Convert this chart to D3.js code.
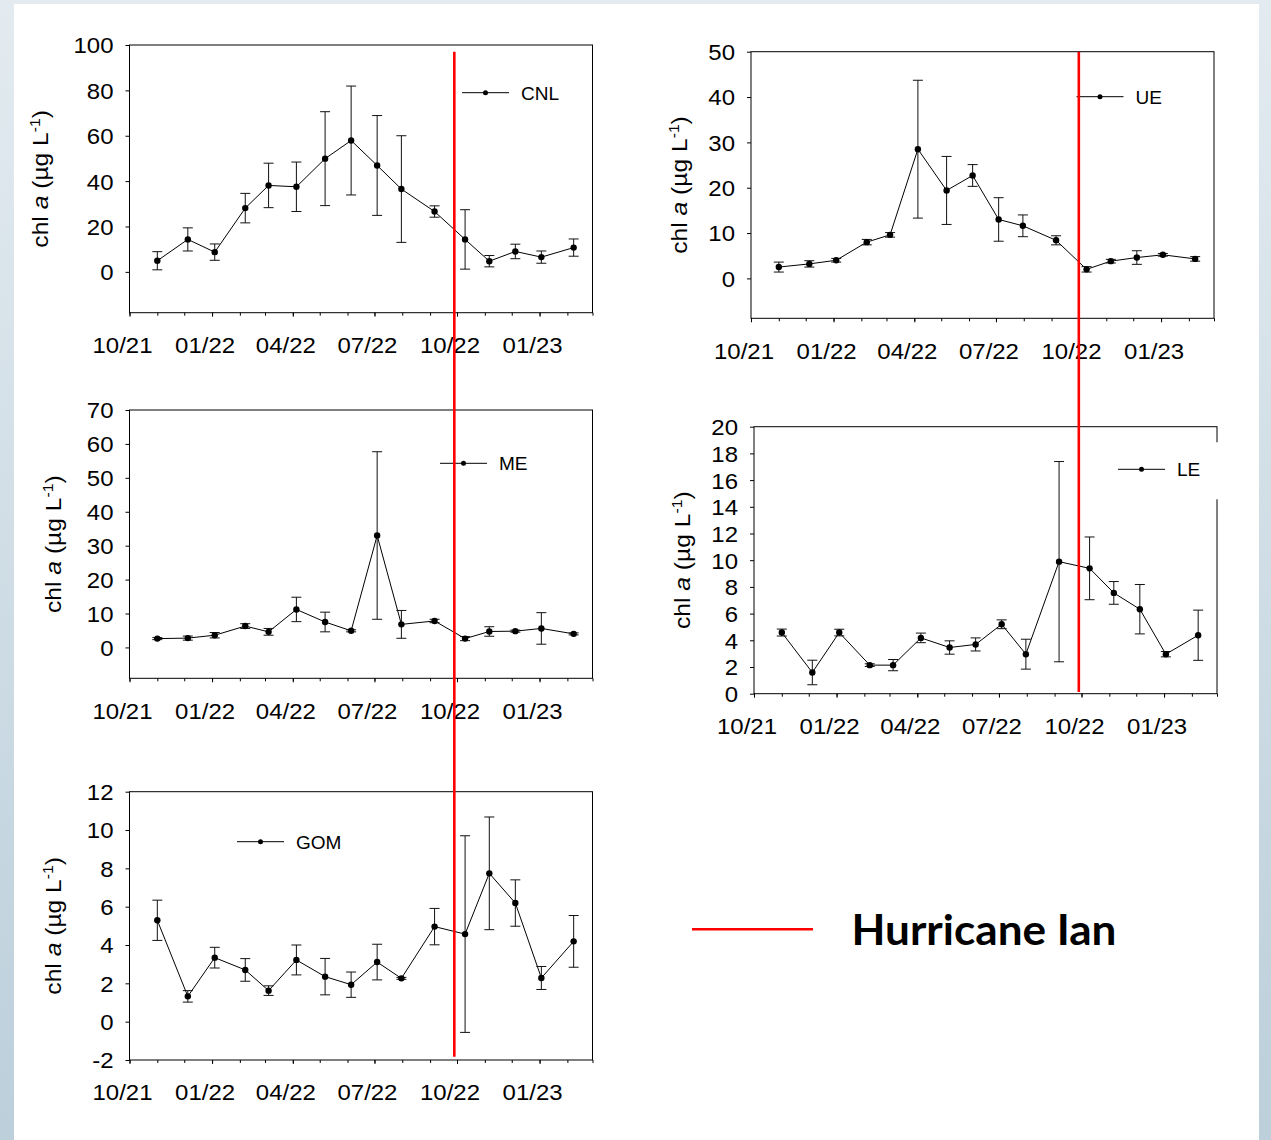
<!DOCTYPE html>
<html>
<head>
<meta charset="utf-8">
<script src="https://cdn.jsdelivr.net/npm/d3@7"></script>
<style>
  body { margin: 0; }
  svg text { font-family: "Liberation Sans", Arial, sans-serif; fill: #000; }
</style>
</head>
<body>
<div id="grafico"></div>
<script>
// Fechas de muestreo (comunes a todas las estaciones)
const fechas = ["2021-11-01", "2021-12-05", "2022-01-04", "2022-02-07", "2022-03-05", "2022-04-05",
  "2022-05-07", "2022-06-05", "2022-07-04", "2022-07-31", "2022-09-06", "2022-10-10",
  "2022-11-06", "2022-12-05", "2023-01-03", "2023-02-08"]
const fechaHuracan = "2022-09-28"
const etiquetasX = ["10/21", "01/22", "04/22", "07/22", "10/22", "01/23"]

// chl a (media y desviacion) por estacion
const cnlMedia = [4.9, 14.3, 8.7, 28.1, 38.1, 37.5, 49.9, 57.9, 46.9, 36.5, 26.6, 14.3, 4.7, 9.0, 6.5, 10.7]
const cnlError = [4.0, 5.1, 3.6, 6.5, 9.8, 10.9, 20.7, 24.0, 22.0, 23.5, 2.5, 13.1, 2.5, 3.2, 2.7, 3.8]
const cnlTicks = [0, 20, 40, 60, 80, 100]

const ueMedia = [2.5, 3.2, 4.0, 8.0, 9.6, 28.5, 19.4, 22.7, 13.0, 11.6, 8.4, 2.0, 3.8, 4.6, 5.2, 4.3]
const ueError = [1.1, 0.7, 0.4, 0.6, 0.5, 15.2, 7.5, 2.4, 4.8, 2.4, 1.0, 0.6, 0.4, 1.5, 0.3, 0.5]
const ueTicks = [0, 10, 20, 30, 40, 50]

const meMedia = [2.6, 2.75, 3.6, 6.3, 4.6, 11.2, 7.5, 4.9, 33.0, 6.8, 7.8, 2.6, 4.7, 4.8, 5.6, 4.0]
const meError = [0.3, 0.6, 0.8, 0.7, 1.0, 3.6, 2.9, 0.3, 24.7, 4.1, 0.5, 0.6, 1.4, 0.3, 4.65, 0.3]
const meTicks = [0, 10, 20, 30, 40, 50, 60, 70]

const leMedia = [4.58, 1.59, 4.58, 2.14, 2.14, 4.18, 3.46, 3.69, 5.2, 2.96, 9.89, 9.39, 7.55, 6.33, 2.96, 4.38]
const leError = [0.26, 0.92, 0.25, 0.1, 0.42, 0.36, 0.5, 0.49, 0.33, 1.12, 7.5, 2.35, 0.85, 1.85, 0.2, 1.88]
const leTicks = [0, 2, 4, 6, 8, 10, 12, 14, 16, 18, 20]

const gomMedia = [5.29, 1.32, 3.34, 2.7, 1.62, 3.22, 2.35, 1.93, 3.11, 2.26, 4.96, 4.57, 7.74, 6.19, 2.28, 4.19]
const gomError = [1.05, 0.3, 0.54, 0.59, 0.25, 0.78, 0.95, 0.66, 0.93, 0.05, 0.95, 5.13, 2.94, 1.21, 0.6, 1.35]
const gomTicks = [-2, 0, 2, 4, 6, 8, 10, 12]

const parse = d3.timeParse("%Y-%m-%d")
const inicio = parse("2021-10-01")
const fin = parse("2023-03-01")

// Paneles: posicion de la caja y de la leyenda
const paneles = [
  { nombre: "CNL", media: cnlMedia, error: cnlError, ticks: cnlTicks, dominio: [-18, 100],
    caja: [129.5, 592.5, 45, 312.7], leyenda: [462, 92.7], offTitulo: 82 },
  { nombre: "UE", media: ueMedia, error: ueError, ticks: ueTicks, dominio: [-8.8, 50],
    caja: [751, 1214, 51.7, 318.3], leyenda: [1076.5, 96.7], offTitulo: 64 },
  { nombre: "ME", media: meMedia, error: meError, ticks: meTicks, dominio: [-9.1, 70],
    caja: [129.5, 592.5, 410, 678.3], leyenda: [440, 463.3], offTitulo: 69 },
  { nombre: "LE", media: leMedia, error: leError, ticks: leTicks, dominio: [0, 20],
    caja: [754, 1217, 426.7, 693.7], leyenda: [1118, 469.3], offTitulo: 64, tapaBorde: true },
  { nombre: "GOM", media: gomMedia, error: gomError, ticks: gomTicks, dominio: [-2, 12],
    caja: [129.5, 592.5, 791.7, 1060], leyenda: [237, 841.7], offTitulo: 69 },
]

const svg = d3.select("#grafico")
  .append("svg")
  .attr("width", 1271)
  .attr("height", 1140)

// Fondo
const defs = svg.append("defs")
const grad = defs.append("linearGradient").attr("id", "fondo").attr("x1", 0).attr("y1", 0).attr("x2", 0).attr("y2", 1)
grad.append("stop").attr("offset", "0%").attr("stop-color", "#e3ebf0")
grad.append("stop").attr("offset", "100%").attr("stop-color", "#bccfdb")
svg.append("rect").attr("width", 1271).attr("height", 1140).attr("fill", "url(#fondo)")
svg.append("rect").attr("x", 14).attr("y", 4).attr("width", 1245).attr("height", 1140).attr("fill", "white")

const estirarX = 1.09
const escalasX = {}

paneles.forEach((p) => {
  const [x0, x1, y0, y1] = p.caja
  const x = d3.scaleTime().domain([inicio, fin]).range([x0, x1])
  const y = d3.scaleLinear().domain(p.dominio).range([y1, y0])
  escalasX[p.nombre] = x
  const datos = fechas.map((f, i) => ({ fecha: parse(f), media: p.media[i], error: p.error[i] }))
  const g = svg.append("g")

  // Caja del grafico
  g.append("rect")
    .attr("x", x0).attr("y", y0)
    .attr("width", x1 - x0).attr("height", y1 - y0)
    .attr("fill", "none").attr("stroke", "#000").attr("stroke-width", 1)

  // La leyenda de LE tapa el borde derecho
  if (p.tapaBorde) {
    g.append("rect").attr("x", p.leyenda[0] - 8).attr("y", p.leyenda[1] - 27)
      .attr("width", 112).attr("height", 57).attr("fill", "white")
  }

  // Eje X: meses menores y trimestres con etiqueta
  const meses = d3.timeMonth.range(inicio, d3.timeMonth.offset(fin, 1))
  const trimestres = d3.timeMonth.every(3).range(inicio, fin)
  g.append("g")
    .attr("transform", `translate(0, ${y1})`)
    .call(d3.axisBottom(x).tickValues(meses).tickSize(3).tickFormat(""))
    .call((a) => a.select(".domain").remove())
  const ejeX = g.append("g")
    .attr("transform", `translate(0, ${y1})`)
    .call(d3.axisBottom(x).tickValues(trimestres).tickSize(4).tickFormat((d, i) => etiquetasX[i]))
    .call((a) => a.select(".domain").remove())
  ejeX.selectAll("text")
    .attr("y", 40.5).attr("dy", 0)
    .attr("font-size", 22)
    .attr("transform", `translate(-7.5,0) scale(${estirarX},1)`)

  // Eje Y
  const ejeY = g.append("g")
    .attr("transform", `translate(${x0}, 0)`)
    .call(d3.axisLeft(y).tickValues(p.ticks).tickSize(4).tickFormat((d) => String(d)))
    .call((a) => a.select(".domain").remove())
  ejeY.selectAll("text")
    .attr("x", 0).attr("dy", "0.36em")
    .attr("font-size", 22)
    .attr("transform", `translate(-16,0) scale(${estirarX},1)`)
  g.selectAll(".tick line").attr("stroke", "#000")

  // Titulo del eje Y
  const titulo = g.append("text")
    .attr("text-anchor", "middle")
    .attr("font-size", 22)
    .attr("transform", `translate(${x0 - p.offTitulo}, ${(y0 + y1) / 2}) rotate(-90) scale(1.12,1)`)
  titulo.append("tspan").text("chl ")
  titulo.append("tspan").attr("font-style", "italic").text("a")
  titulo.append("tspan").text(" (\u00b5g L")
  titulo.append("tspan").attr("font-size", 14).attr("dy", -8).text("-1")
  titulo.append("tspan").attr("dy", 8).text(")")

  // Linea de la serie
  g.append("path")
    .datum(datos)
    .attr("fill", "none").attr("stroke", "#000").attr("stroke-width", 1)
    .attr("d", d3.line().x((d) => x(d.fecha)).y((d) => y(d.media)))

  // Barras de error
  const barras = g.append("g").attr("stroke", "#111").attr("stroke-width", 1)
  barras.selectAll(".v").data(datos).join("line")
    .attr("x1", (d) => x(d.fecha)).attr("x2", (d) => x(d.fecha))
    .attr("y1", (d) => y(d.media + d.error)).attr("y2", (d) => y(d.media - d.error))
  barras.selectAll(".sup").data(datos).join("line").attr("class", "sup")
    .attr("x1", (d) => x(d.fecha) - 5).attr("x2", (d) => x(d.fecha) + 5)
    .attr("y1", (d) => y(d.media + d.error)).attr("y2", (d) => y(d.media + d.error))
  barras.selectAll(".inf").data(datos).join("line").attr("class", "inf")
    .attr("x1", (d) => x(d.fecha) - 5).attr("x2", (d) => x(d.fecha) + 5)
    .attr("y1", (d) => y(d.media - d.error)).attr("y2", (d) => y(d.media - d.error))

  // Puntos
  g.selectAll("circle.pt").data(datos).join("circle")
    .attr("class", "pt")
    .attr("cx", (d) => x(d.fecha)).attr("cy", (d) => y(d.media))
    .attr("r", 3.2).attr("fill", "#000")

  // Leyenda
  const [lx, ly] = p.leyenda
  g.append("line").attr("x1", lx).attr("x2", lx + 47).attr("y1", ly).attr("y2", ly)
    .attr("stroke", "#000").attr("stroke-width", 1)
  g.append("circle").attr("cx", lx + 23.5).attr("cy", ly).attr("r", 2.5).attr("fill", "#000")
  g.append("text").attr("x", lx + 59).attr("y", ly + 6.8)
    .attr("font-size", 19).text(p.nombre)
})

// Lineas del huracan Ian
const huracan = parse(fechaHuracan)
const xIzq = escalasX["CNL"](huracan)
const xDer = escalasX["LE"](huracan)
svg.append("line").attr("x1", xIzq).attr("x2", xIzq).attr("y1", 51.7).attr("y2", 1056.7)
  .attr("stroke", "#ff0000").attr("stroke-width", 2.6)
svg.append("line").attr("x1", xDer).attr("x2", xDer).attr("y1", 51.7).attr("y2", 692)
  .attr("stroke", "#ff0000").attr("stroke-width", 2.6)

// Leyenda del huracan
svg.append("line").attr("x1", 692).attr("x2", 813).attr("y1", 929.3).attr("y2", 929.3)
  .attr("stroke", "#ff0000").attr("stroke-width", 2.4)
svg.append("text").attr("x", 851.5).attr("y", 945)
  .style("font-family", "Lato, 'Open Sans', sans-serif")
  .attr("font-weight", "bold").attr("font-size", 42)
  .attr("textLength", 265).attr("lengthAdjust", "spacingAndGlyphs")
  .text("Hurricane Ian")
</script>
</body>
</html>
